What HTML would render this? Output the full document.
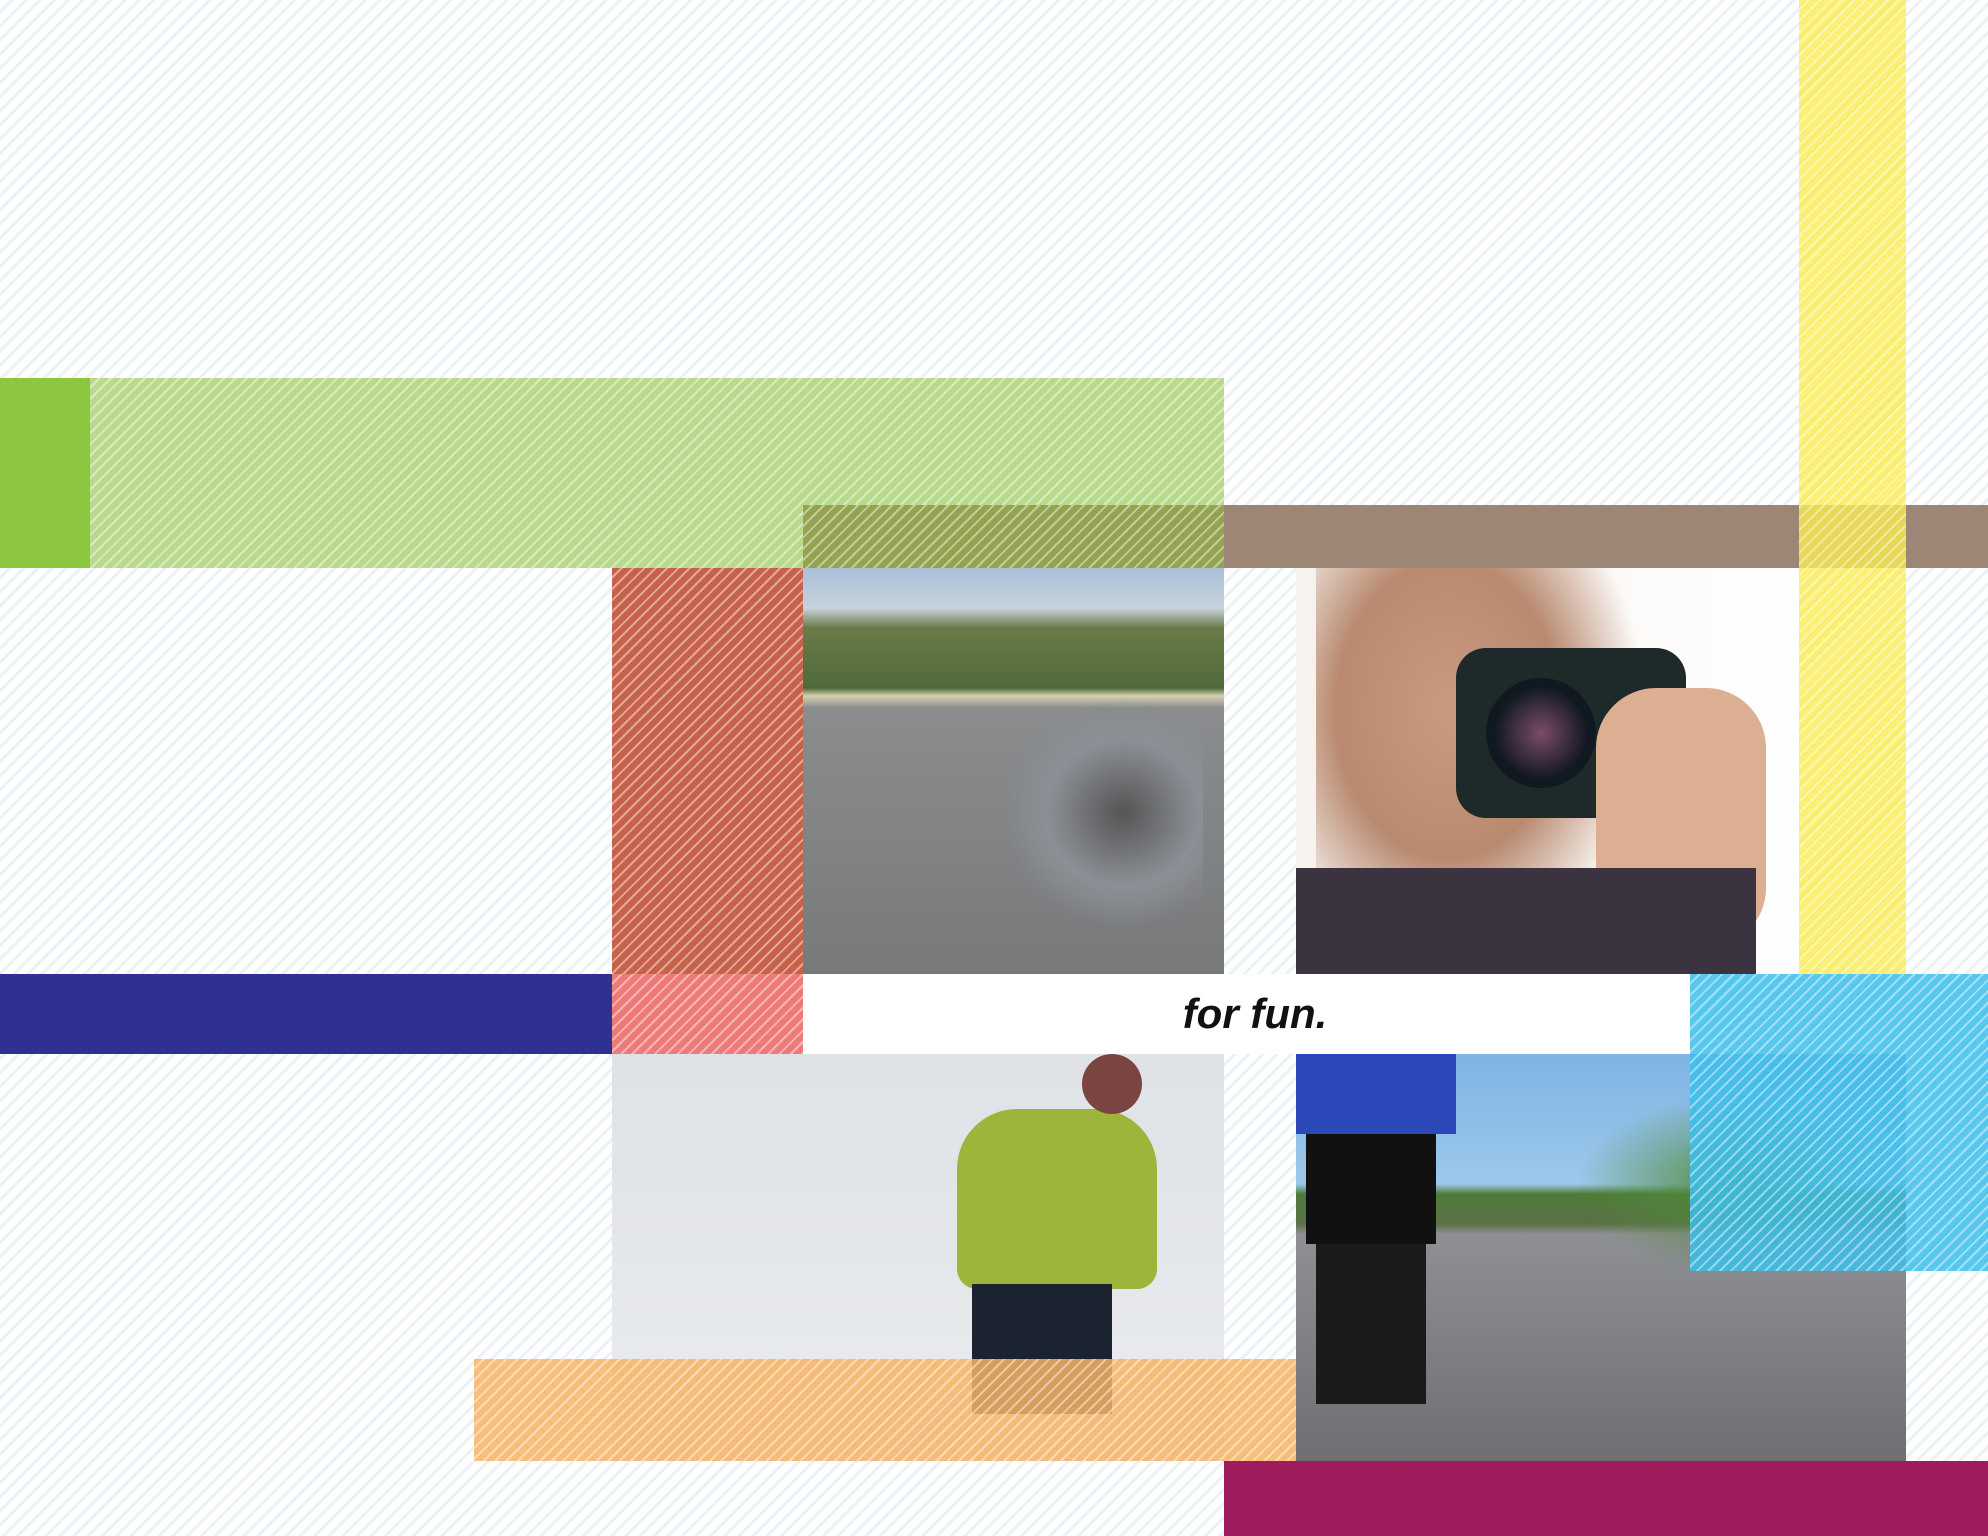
<!DOCTYPE html>
<html><head><meta charset="utf-8"><style>
html,body{margin:0;padding:0}
body{width:1988px;height:1536px;position:relative;overflow:hidden;background:#fff;
background-image:repeating-linear-gradient(135deg,#fff 0 7px,#eaf2f6 7px 10px);font-family:"Liberation Sans",sans-serif}
.b{position:absolute}
.h{background-image:repeating-linear-gradient(135deg,rgba(255,255,255,0) 0 6px,rgba(255,255,255,.45) 6px 8px)}
</style></head><body>
<div class="b" style="left:0;top:378px;width:90px;height:190px;background:#8dc63f"></div>
<div class="b h" style="left:90px;top:378px;width:1134px;height:190px;background-color:#b9da8d"></div>
<div class="b" style="left:803px;top:505px;width:1185px;height:63px;background:#9c8676"></div>
<div class="b h" style="left:803px;top:505px;width:421px;height:63px;background-color:#93a350"></div>
<div class="b h" style="left:1799px;top:0;width:107px;height:974px;background-color:rgba(250,236,80,.8)"></div>
<div class="b" style="left:803px;top:568px;width:421px;height:406px;background:linear-gradient(#aac0d8 0,#c8d2dc 40px,#6b7a48 60px,#4f6a3a 120px,#d6d0b0 128px,#8a8c8e 140px,#77797b 406px)">
 <div class="b" style="left:200px;top:130px;width:200px;height:230px;background:radial-gradient(ellipse at 60% 50%,#555 0,#8c9096 45%,rgba(0,0,0,0) 70%)"></div>
</div>
<div class="b h" style="left:612px;top:568px;width:191px;height:486px;background-color:#c8614a"></div>
<div class="b h" style="left:612px;top:974px;width:191px;height:80px;background-color:#ee7a78"></div>
<div class="b" style="left:1296px;top:568px;width:503px;height:406px;background:linear-gradient(90deg,#f6f2ee,#fff)">
 <div class="b" style="left:20px;top:0;width:330px;height:406px;background:radial-gradient(ellipse at 40% 35%,#c99a7e 0,#b98a70 40%,rgba(255,255,255,0) 70%)"></div>
 <div class="b" style="left:160px;top:80px;width:230px;height:170px;border-radius:30px;background:#1e2a2a"></div>
 <div class="b" style="left:190px;top:110px;width:110px;height:110px;border-radius:50%;background:radial-gradient(#7b4b6b,#101820 60%)"></div>
 <div class="b" style="left:300px;top:120px;width:170px;height:260px;border-radius:60px;background:#dcae92"></div>
 <div class="b" style="left:0;top:300px;width:460px;height:106px;background:#3b3340"></div>
</div>
<div class="b" style="left:0;top:974px;width:612px;height:80px;background:#2e3192"></div>
<div class="b" style="left:803px;top:974px;width:887px;height:80px;background:#fff"></div>
<div class="b" style="left:1100px;top:990px;width:310px;text-align:center;font-size:42px;font-weight:bold;font-style:italic;color:#111;line-height:48px">for fun.</div>
<div class="b" style="left:612px;top:1054px;width:612px;height:407px;background:linear-gradient(#dfe2e6,#eaecee)">
 <div class="b" style="left:345px;top:55px;width:200px;height:180px;border-radius:60px 60px 20px 20px;background:#9db53a"></div>
 <div class="b" style="left:470px;top:0;width:60px;height:60px;border-radius:50%;background:#7a4540"></div>
 <div class="b" style="left:360px;top:230px;width:140px;height:130px;background:#1b2230"></div>
</div>
<div class="b" style="left:1296px;top:1054px;width:610px;height:407px;background:linear-gradient(#7fb4e4 0,#9cc8ea 130px,#4e7a3a 140px,#5c7048 170px,#8e9094 180px,#6d6f72 407px)">
 <div class="b" style="left:0;top:0;width:160px;height:80px;background:#2b48b8"></div>
 <div class="b" style="left:10px;top:80px;width:130px;height:110px;background:#111"></div>
 <div class="b" style="left:20px;top:190px;width:110px;height:160px;background:#1a1a1a"></div>
 <div class="b" style="left:280px;top:40px;width:330px;height:180px;background:radial-gradient(ellipse,#4f8a3a,rgba(0,0,0,0) 70%)"></div>
</div>
<div class="b h" style="left:1690px;top:974px;width:298px;height:297px;background-color:rgba(60,190,235,.85)"></div>
<div class="b h" style="left:474px;top:1359px;width:822px;height:102px;background-color:rgba(247,180,100,.85)"></div>
<div class="b" style="left:1224px;top:1461px;width:764px;height:75px;background:#9e1b5c"></div>
</body></html>
